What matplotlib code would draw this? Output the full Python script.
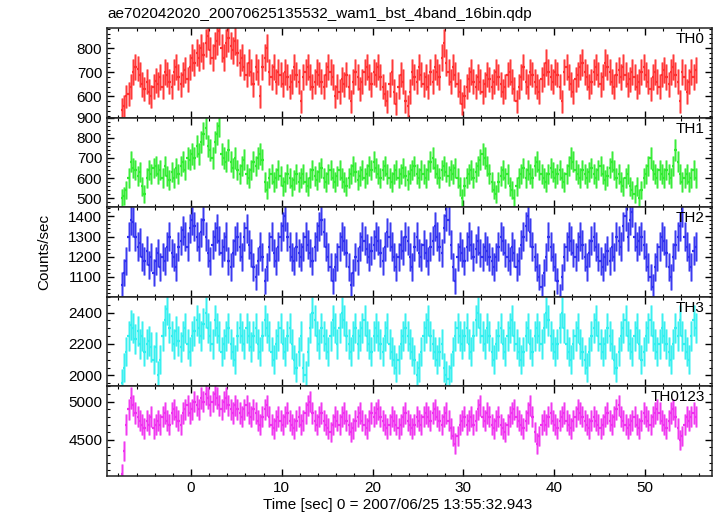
from matplotlib import pyplot as plt
from matplotlib.ticker import MultipleLocator
import numpy as np

plt.rcParams['font.family'] = ['Liberation Sans', 'DejaVu Sans']
plt.rcParams['font.size'] = 11

# time bins: 0.25 s, first bin starts at -7.75 s
binWidth = 0.25
tStart = -7.75

# count rates (counts/sec), one value per 0.25 s bin
th0 = [545, 560, 600, 610, 640, 700, 720, 715, 690, 650, 630, 660, 620, 600, 640, 665,
       650, 680, 640, 700, 690, 660, 640, 700, 720, 680, 650, 690, 710, 670, 720, 760,
       740, 780, 760, 800, 770, 820, 850, 790, 760, 810, 830, 870, 800, 760, 820, 840,
       810, 790, 830, 780, 740, 760, 720, 690, 740, 700, 650, 720, 700, 600, 720, 760,
       800, 700, 680, 720, 660, 700, 690, 650, 700, 680, 640, 660, 720, 690, 660, 580,
       680, 700, 720, 680, 640, 660, 700, 690, 660, 640, 690, 720, 700, 680, 600, 640,
       620, 670, 650, 690, 640, 580, 660, 700, 680, 630, 660, 700, 720, 680, 650, 700,
       690, 720, 680, 640, 610, 580, 650, 700, 620, 570, 640, 690, 660, 580, 560, 620,
       700, 680, 660, 720, 690, 650, 680, 640, 700, 660, 720, 700, 680, 760, 820, 740,
       700, 660, 720, 690, 650, 620, 570, 600, 640, 670, 700, 660, 640, 680, 660, 620,
       650, 690, 670, 640, 660, 700, 680, 650, 620, 640, 690, 700, 660, 630, 580, 640,
       680, 720, 660, 640, 700, 690, 660, 640, 620, 670, 690, 740, 700, 680, 660, 700,
       690, 640, 580, 700, 720, 680, 650, 620, 670, 690, 720, 740, 700, 680, 640, 660,
       700, 720, 690, 650, 680, 740, 720, 700, 660, 640, 690, 710, 680, 720, 690, 650,
       670, 700, 680, 640, 660, 700, 720, 690, 660, 630, 680, 700, 660, 640, 690, 710,
       680, 650, 700, 720, 690, 660, 580, 700, 680, 620, 660, 700, 680, 710]

th1 = [500, 510, 540, 600, 680, 650, 640, 610, 630, 560, 520, 600, 640, 620, 650, 660,
       620, 640, 600, 660, 610, 590, 630, 600, 650, 620, 660, 680, 640, 700, 690, 720,
       700, 760, 720, 780, 820, 850, 760, 740, 700, 780, 820, 860, 720, 700, 680, 740,
       680, 650, 700, 640, 620, 660, 690, 620, 600, 640, 680, 660, 700, 720, 690, 580,
       540, 600, 620, 580, 600, 640, 610, 560, 580, 620, 600, 560, 590, 620, 580, 600,
       620, 580, 560, 600, 640, 610, 590, 630, 650, 600, 580, 620, 640, 600, 580, 610,
       640, 600, 580, 560, 600, 620, 660, 630, 590, 610, 640, 600, 620, 660, 640, 680,
       650, 620, 600, 640, 660, 620, 600, 580, 620, 640, 600, 620, 650, 610, 590, 620,
       640, 660, 620, 600, 640, 620, 600, 640, 680, 700, 650, 620, 600, 640, 660, 630,
       610, 640, 620, 650, 600, 560, 500, 560, 600, 620, 640, 600, 630, 660, 690, 720,
       700, 660, 620, 580, 540, 520, 580, 610, 640, 600, 620, 560, 540, 500, 560, 600,
       620, 650, 600, 640, 620, 600, 660, 680, 640, 620, 600, 580, 620, 650, 630, 600,
       620, 640, 600, 580, 620, 660, 700, 680, 640, 620, 600, 640, 620, 600, 630, 650,
       620, 600, 640, 660, 620, 590, 610, 650, 680, 640, 600, 620, 580, 560, 600, 620,
       560, 540, 520, 560, 500, 540, 600, 620, 660, 700, 640, 620, 600, 640, 620, 600,
       640, 620, 600, 660, 740, 680, 620, 580, 600, 620, 580, 600, 640, 600]

th2 = [1060, 1120, 1180, 1300, 1380, 1370, 1300, 1250, 1270, 1200, 1180, 1230, 1160, 1200, 1120, 1180,
       1220, 1150, 1200, 1180, 1250, 1300, 1220, 1200, 1150, 1250, 1280, 1330, 1300, 1250, 1340, 1380,
       1350, 1300, 1250, 1320, 1380, 1300, 1220, 1180, 1260, 1300, 1340, 1280, 1220, 1250, 1300, 1180,
       1150, 1220, 1280, 1300, 1250, 1200, 1300, 1340, 1260, 1220, 1150, 1100, 1180, 1250, 1200, 1080,
       1150, 1250, 1300, 1220, 1180, 1250, 1300, 1350, 1400, 1300, 1250, 1200, 1180, 1250, 1220, 1200,
       1250, 1300, 1260, 1220, 1180, 1250, 1300, 1350, 1380, 1320, 1250, 1200, 1150, 1080, 1150, 1200,
       1250, 1300, 1280, 1220, 1150, 1060, 1120, 1200, 1180, 1250, 1300, 1280, 1240, 1200, 1230, 1260,
       1300, 1280, 1220, 1180, 1250, 1320, 1300, 1250, 1200, 1150, 1200, 1260, 1230, 1300, 1280, 1200,
       1150, 1250, 1300, 1220, 1200, 1260, 1220, 1180, 1250, 1280, 1350, 1300, 1250, 1220, 1340, 1400,
       1380, 1260, 1150, 1080, 1200, 1250, 1220, 1180, 1250, 1300, 1260, 1200, 1240, 1280, 1220, 1200,
       1250, 1230, 1200, 1180, 1150, 1200, 1250, 1300, 1280, 1220, 1200, 1180, 1250, 1220, 1150, 1180,
       1260, 1300, 1350, 1400, 1320, 1250, 1200, 1150, 1100, 1050, 1120, 1200, 1300, 1250, 1200, 1150,
       1080, 1000, 1100, 1200, 1250, 1300, 1280, 1220, 1200, 1250, 1300, 1260, 1200, 1150, 1220, 1280,
       1300, 1250, 1200, 1180, 1150, 1200, 1230, 1180, 1250, 1200, 1300, 1280, 1250, 1350, 1400, 1300,
       1380, 1420, 1300, 1250, 1280, 1300, 1260, 1200, 1150, 1100, 1050, 1150, 1200, 1250, 1300, 1280,
       1220, 1150, 1100, 1200, 1260, 1300, 1350, 1420, 1300, 1250, 1200, 1150, 1230, 1250]

th3 = [1950, 2050, 2150, 2250, 2320, 2300, 2230, 2280, 2200, 2250, 2150, 2200, 2220, 2180, 2100, 2180,
       2000, 2100, 2250, 2350, 2420, 2300, 2250, 2200, 2280, 2220, 2180, 2250, 2300, 2200, 2150, 2250,
       2280, 2350, 2300, 2250, 2330, 2400, 2300, 2250, 2200, 2350, 2300, 2250, 2150, 2200, 2250, 2300,
       2200, 2150, 2100, 2250, 2300, 2250, 2200, 2300, 2250, 2180, 2250, 2300, 2200, 2150, 2250, 2350,
       2300, 2250, 2150, 2100, 2200, 2250, 2300, 2200, 2150, 2250, 2300, 2200, 2100, 2050, 2150, 2250,
       2050, 2000, 2150, 2300, 2400, 2350, 2250, 2200, 2300, 2250, 2200, 2150, 2250, 2350, 2300, 2200,
       2300, 2400, 2350, 2250, 2200, 2150, 2250, 2300, 2200, 2250, 2300, 2350, 2250, 2200, 2150, 2250,
       2300, 2250, 2200, 2150, 2250, 2300, 2200, 2150, 2100, 2050, 2100, 2200, 2250, 2300, 2250, 2200,
       2150, 2100, 2000, 2050, 2150, 2250, 2300, 2350, 2250, 2200, 2150, 2100, 2150, 2200, 2050, 2000,
       1980, 2050, 2150, 2250, 2300, 2250, 2200, 2250, 2300, 2200, 2150, 2250, 2350, 2400, 2300, 2250,
       2200, 2300, 2250, 2150, 2100, 2200, 2250, 2300, 2200, 2150, 2250, 2300, 2350, 2250, 2200, 2150,
       2100, 2150, 2250, 2300, 2200, 2150, 2250, 2300, 2250, 2200, 2300, 2400, 2350, 2250, 2200, 2150,
       2200, 2300, 2400, 2300, 2200, 2150, 2100, 2200, 2250, 2300, 2200, 2150, 2100, 2050, 2150, 2250,
       2300, 2350, 2250, 2200, 2150, 2200, 2300, 2250, 2200, 2100, 2050, 2150, 2250, 2300, 2350, 2250,
       2200, 2150, 2250, 2300, 2200, 2100, 2150, 2250, 2300, 2350, 2250, 2200, 2150, 2200, 2300, 2250,
       2200, 2150, 2100, 2200, 2300, 2250, 2350, 2250, 2200, 2150, 2100, 2250, 2350, 2300]

th0123 = [4050, 4350, 4700, 4900, 5050, 4950, 4850, 4800, 4750, 4700, 4650, 4750, 4700, 4800, 4650, 4700,
          4750, 4700, 4800, 4850, 4750, 4700, 4850, 4900, 4800, 4750, 4700, 4850, 4900, 4950, 4850, 4900,
          5000, 4950, 4900, 5050, 5000, 5100, 5050, 4950, 5000, 5100, 5050, 4950, 4900, 5000, 5050, 4950,
          4900, 4850, 4950, 4900, 4850, 4800, 4900, 4950, 4850, 4800, 4900, 4850, 4750, 4700, 4800, 4900,
          4950, 4800, 4700, 4650, 4750, 4800, 4750, 4700, 4800, 4850, 4750, 4700, 4650, 4750, 4800, 4700,
          4750, 4850, 4950, 5000, 4850, 4750, 4700, 4800, 4850, 4750, 4700, 4650, 4600, 4700, 4800, 4750,
          4700, 4800, 4850, 4750, 4700, 4600, 4650, 4750, 4800, 4850, 4750, 4700, 4650, 4750, 4850, 4800,
          4850, 4900, 4800, 4750, 4700, 4650, 4700, 4800, 4750, 4700, 4650, 4700, 4800, 4850, 4750, 4700,
          4650, 4700, 4800, 4750, 4700, 4800, 4850, 4800, 4750, 4850, 4900, 4800, 4750, 4700, 4800, 4850,
          4750, 4650, 4550, 4450, 4550, 4700, 4750, 4800, 4700, 4750, 4800, 4700, 4750, 4900, 4950, 4800,
          4750, 4850, 4800, 4700, 4650, 4750, 4800, 4700, 4650, 4600, 4700, 4800, 4850, 4900, 4800, 4750,
          4700, 4650, 4750, 4850, 4950, 4800, 4600, 4450, 4550, 4700, 4750, 4700, 4800, 4850, 4750, 4700,
          4650, 4750, 4800, 4850, 4750, 4700, 4650, 4750, 4800, 4900, 4850, 4800, 4750, 4700, 4650, 4750,
          4800, 4750, 4700, 4650, 4700, 4800, 4850, 4750, 4700, 4800, 4900, 4950, 4800, 4750, 4700, 4650,
          4700, 4750, 4800, 4700, 4650, 4750, 4850, 4800, 4750, 4700, 4800, 4850, 4900, 4850, 4750, 4700,
          4650, 4750, 4850, 4900, 4800, 4650, 4500, 4550, 4700, 4800, 4750, 4800, 4850, 4800]

bandNames = ['TH0', 'TH1', 'TH2', 'TH3', 'TH0123']
bandRates = [th0, th1, th2, th3, th0123]
bandColors = ['#ff3030', '#30ec30', '#3030f0', '#30f0f0', '#f030f0']
bandLimits = [(512, 883), (455, 900), (1002, 1445), (1930, 2500), (4025, 5200)]
bandMajor = [100, 100, 100, 200, 500]
bandMinor = [20, 20, 20, 50, 100]


#Local method to draw one band panel (qdp style: x half-bin bars + poisson y error bars)
def plotPanel(ax, rates, color, name, ylims, major, minor):
    y = np.array(rates, dtype=float)
    t = tStart + binWidth * (np.arange(len(y)) + 0.5)
    err = np.sqrt(y / binWidth)
    ax.errorbar(t, y, yerr=err, fmt='none', ecolor=color, elinewidth=2.0, alpha=0.5)
    ax.errorbar(t, y, yerr=err, fmt='none', ecolor=color, elinewidth=0.8, alpha=0.9)
    ax.errorbar(t, y, xerr=binWidth / 2, fmt='none', ecolor=color, elinewidth=1.6)
    ax.set_ylim(*ylims)
    ax.yaxis.set_major_locator(MultipleLocator(major))
    ax.yaxis.set_minor_locator(MultipleLocator(minor))
    ax.text(0.988, 0.955, name, transform=ax.transAxes, ha='right', va='top', fontsize=11)


fig, axes = plt.subplots(5, 1, sharex=True, figsize=(7.17, 5.16), dpi=100)
fig.subplots_adjust(left=107 / 717, right=712 / 717, top=1 - 28 / 516, bottom=1 - 476 / 516, hspace=0)

for i, ax in enumerate(axes):
    plotPanel(ax, bandRates[i], bandColors[i], bandNames[i], bandLimits[i], bandMajor[i], bandMinor[i])
    ax.tick_params(which='both', direction='in', top=True, right=True, labelsize=11)
    ax.tick_params(which='major', length=5, width=1)
    ax.tick_params(which='minor', length=2.5, width=0.8)
    for s in ax.spines.values():
        s.set_linewidth(1.1)
        s.set_color('#222222')

axes[-1].set_xlim(-9.25, 57.4)
axes[-1].xaxis.set_major_locator(MultipleLocator(10))
axes[-1].xaxis.set_minor_locator(MultipleLocator(2))

fig.text(107 / 717, 1 - 14 / 516, 'ae702042020_20070625135532_wam1_bst_4band_16bin.qdp',
         ha='left', va='center', fontsize=11)
fig.text(398 / 717, 1 - 505 / 516, 'Time [sec] 0 = 2007/06/25 13:55:32.943',
         ha='center', va='center', fontsize=11)
fig.text(44 / 717, 1 - 252 / 516, 'Counts/sec', rotation=90, ha='center', va='center', fontsize=11)

fig.savefig('out.png', dpi=100)
